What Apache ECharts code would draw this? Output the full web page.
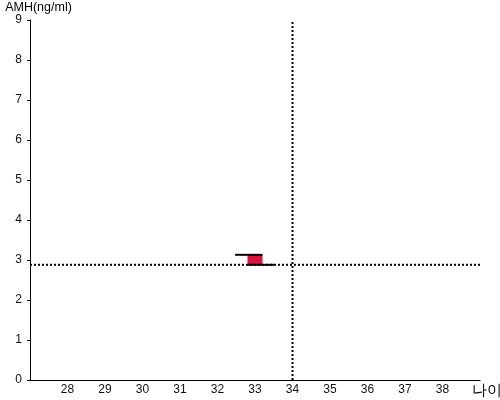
<!DOCTYPE html>
<html><head><meta charset="utf-8">
<script src="https://cdn.jsdelivr.net/npm/echarts@6/dist/echarts.min.js"></script>
<style>html,body{margin:0;padding:0;background:#fff}#c{width:500px;height:400px}</style>
</head><body><div id="c"></div>
<script>
var ageRange = [27, 39];
var amhRange = [0, 9];
var refAge = 34;
var refAmh = 2.88;
var boxAge = [32.8, 33.2];
var boxAmh = [2.88, 3.13];
var topLineAge = [32.47, 33.2];
var bottomLineAge = [32.8, 33.52];
var xName = '나이';
var yName = 'AMH(ng/ml)';

var chart = echarts.init(document.getElementById('c'));
var font = 'Liberation Sans, Arial, sans-serif';
var dotted = {color: '#000', width: 2, type: [2, 2]};
chart.setOption({
  animation: false,
  grid: {left: 30, right: 20, top: 20, bottom: 20, containLabel: false, outerBoundsMode: 'none'},
  xAxis: {
    type: 'value', min: ageRange[0], max: ageRange[1], interval: 1,
    name: xName, nameLocation: 'end', nameGap: -8,
    nameTextStyle: {color: '#000', fontSize: 15, fontFamily: font, align: 'left', verticalAlign: 'top', padding: [3, 0, 0, 0]},
    axisLine: {lineStyle: {color: '#000', width: 1}},
    axisTick: {show: false},
    splitLine: {show: false},
    axisLabel: {color: '#111', fontSize: 12, fontFamily: font, margin: 4,
      formatter: function (v) { return (v === ageRange[0] || v === ageRange[1]) ? '' : String(v); }}
  },
  yAxis: {
    type: 'value', min: amhRange[0], max: amhRange[1], interval: 1,
    name: yName, nameLocation: 'end', nameGap: 4,
    nameTextStyle: {color: '#000', fontSize: 12.5, fontFamily: font, align: 'center', padding: [0, 0, 0, 17]},
    axisLine: {show: true, lineStyle: {color: '#000', width: 1}},
    axisTick: {show: true, length: 3, lineStyle: {color: '#000'}},
    splitLine: {show: false},
    axisLabel: {color: '#111', fontSize: 12, fontFamily: font, margin: 8}
  },
  series: [
    {type: 'line', symbol: 'none', silent: true, lineStyle: dotted,
     data: [[ageRange[0], refAmh], [ageRange[1], refAmh]]},
    {type: 'line', symbol: 'none', silent: true, lineStyle: dotted,
     data: [[refAge, amhRange[0]], [refAge, amhRange[1]]]},
    {type: 'custom', silent: true,
     data: [[boxAge[0], boxAmh[0], boxAge[1], boxAmh[1]]],
     encode: {x: [0, 2], y: [1, 3]},
     renderItem: function (params, api) {
       var p0 = api.coord([api.value(0), api.value(3)]);
       var p1 = api.coord([api.value(2), api.value(1)]);
       return {type: 'rect', shape: {x: p0[0], y: p0[1], width: p1[0] - p0[0], height: p1[1] - p0[1]},
         style: {fill: '#DC143C'}};
     }},
    {type: 'line', symbol: 'none', silent: true, lineStyle: {color: '#000', width: 2},
     data: [[topLineAge[0], boxAmh[1]], [topLineAge[1], boxAmh[1]]]},
    {type: 'line', symbol: 'none', silent: true, lineStyle: {color: '#000', width: 2},
     data: [[bottomLineAge[0], boxAmh[0]], [bottomLineAge[1], boxAmh[0]]]}
  ]
});
</script></body></html>
